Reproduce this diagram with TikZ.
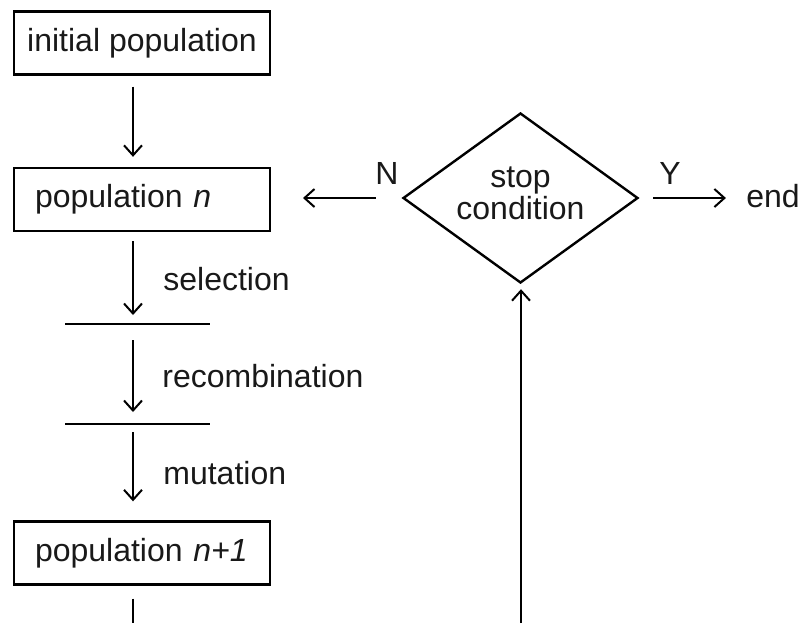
\documentclass[tikz,border=0pt]{standalone}
\usepackage{fontspec}
\setmainfont{Liberation Sans}
\usetikzlibrary{shapes.geometric,arrows.meta}
\begin{document}
\begin{tikzpicture}[x=0.5pt,y=-0.5pt,
  every node/.style={font=\fontsize{16pt}{15.5pt}\selectfont, text=black!90},
  box/.style={draw, line width=1.2pt, minimum width=128pt, minimum height=31.5pt, inner ysep=0pt},
  lbox/.style={box, inner xsep=10.5pt, text width=107pt, align=left},
  arr/.style={line width=1pt, -{Straight Barb[length=5pt,width=9pt,line width=1pt]}},
  plain/.style={line width=1pt},
  lbl/.style={anchor=west, inner sep=0pt}]
\useasboundingbox (0,0) rectangle (805,623);
% boxes
\node[box, align=center, inner xsep=0pt] (ip) at (142,43) {initial population};
\node[lbox] (pn) at (142,199.5) {population \textit{n}};
\node[lbox] (pn1) at (142,553) {population \textit{n}\textit{+1}};
% arrow column
\coordinate (ax) at (133,0);
\coordinate (b1l) at (65,324); \coordinate (b1r) at (210,324);
\coordinate (b2l) at (65,424); \coordinate (b2r) at (210,424);
\coordinate (bot) at (133,623);
\draw[plain] (b1l) -- (b1r);
\draw[plain] (b2l) -- (b2r);
\draw[arr] ([yshift=-5.5pt]ip.south -| ax) -- ([yshift=5pt]pn.north -| ax);
\draw[arr] ([yshift=-4.5pt]pn.south -| ax) -- ([yshift=4.5pt]b1l -| ax);
\draw[arr] ([yshift=-8pt]b1l -| ax) -- ([yshift=6pt]b2l -| ax);
\draw[arr] ([yshift=-4pt]b2l -| ax) -- ([yshift=9.5pt]pn1.north -| ax);
\draw[plain] ([yshift=-6.5pt]pn1.south -| ax) -- (bot);
% labels
\node[lbl] (sel) at (163,279) {selection};
\node[lbl] (rec) at (162,376) {recombination};
\node[lbl] (mut) at (163,473) {mutation};
% decision
\node[draw, diamond, line width=1.2pt, minimum width=117.5pt, minimum height=85pt, inner sep=-5pt, align=center, text depth=5pt] (sc) at (520.5,198) {stop\\[0.5pt]condition};
\coordinate (nl) at (303,198);
\node[inner sep=0pt] (end) at (773,196) {end};
\node[inner sep=0pt] (N) at (387,173) {N};
\node[inner sep=0pt] (Y) at (670,173) {Y};
\draw[arr] ([xshift=-13pt]sc.west) -- (nl);
\draw[arr] ([xshift=7pt]sc.east) -- ([xshift=-10pt]end.west |- sc.east);
\coordinate (up) at (521,623);
\draw[arr] (up) -- ([yshift=-2.5pt]sc.south -| up);
\end{tikzpicture}
\end{document}
